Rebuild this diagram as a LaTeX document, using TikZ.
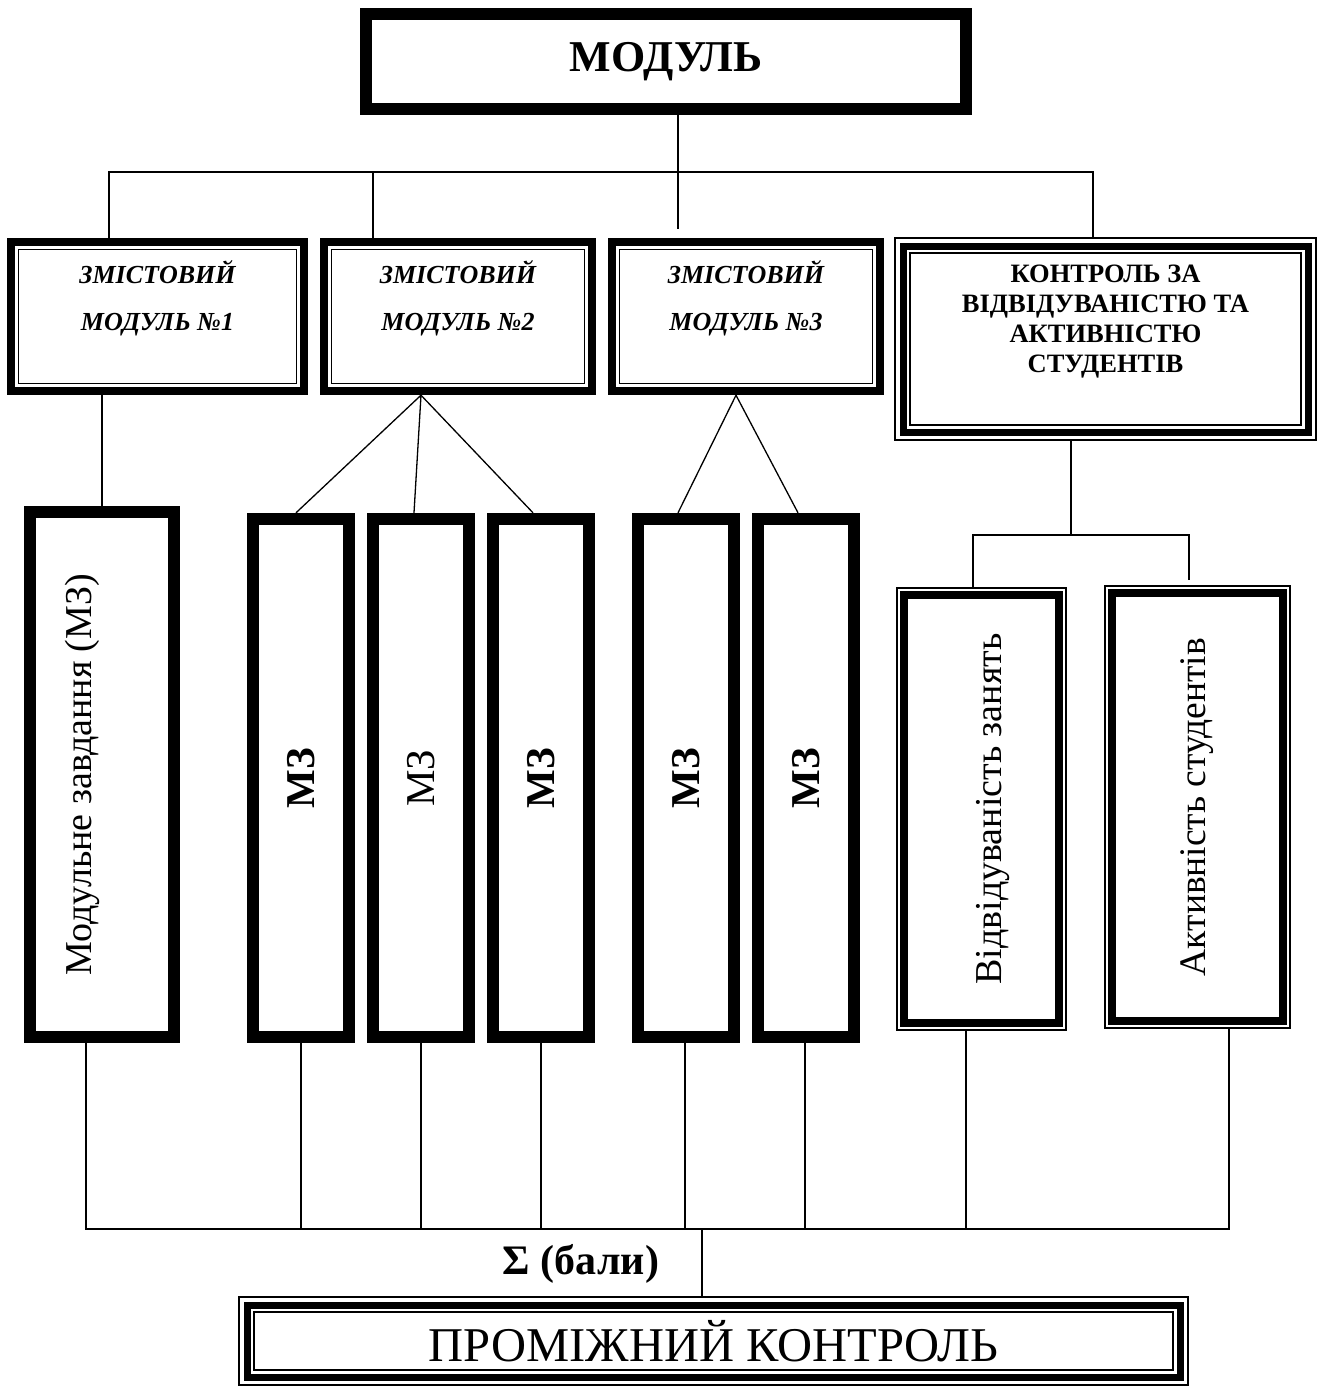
\documentclass[tikz,border=0pt]{standalone}
\usepackage{fontspec}
\setmainfont{Liberation Serif}
\usetikzlibrary{calc}

% frame drawn inside a node, #1 = inset, #2 = line width
\newcommand\inframe[2]{\draw[line width=#2pt] ([shift={(#1pt,-#1pt)}]path picture bounding box.north west) rectangle ([shift={(-#1pt,#1pt)}]path picture bounding box.south east);}
% upright text, #1 = sideways offset
\newcommand\vlabel[2][0pt]{\rotatebox{90}{\raisebox{#1}[\height][\depth]{#2}}}

\tikzset{
  sized/.style 2 args={fill=white, inner sep=0pt, align=center, minimum width=#1pt, minimum height=#2pt},
  heavy/.style={path picture={\inframe{6}{12}}},
  zmbox/.style={path picture={\inframe{4}{8}\inframe{11.5}{1.6}}},
  ctrlbox/.style={path picture={\inframe{0.8}{1.6}\inframe{9}{7}\inframe{16}{1.6}}},
  vidbox/.style={path picture={\inframe{0.8}{1.6}\inframe{8}{8}}},
  link/.style={line width=1.3pt},
  zmtext/.style={font=\fontsize{26}{30}\selectfont\bfseries\itshape},
  mztext/.style={font=\fontsize{41}{44}\selectfont}
}

\begin{document}
\begin{tikzpicture}[x=1pt,y=-1pt]
\useasboundingbox (0,0) rectangle (1318,1387);

% top
\node[sized={612}{107}, heavy, font=\fontsize{44}{50}\selectfont\bfseries] (modul) at (666,61.5) {МОДУЛЬ};

% content modules
\node[sized={301}{157}, zmbox, zmtext] (zm1) at (157.5,316.5) {ЗМІСТОВИЙ\\[17pt]МОДУЛЬ №1\\[12pt]\mbox{}};
\node[sized={276}{157}, zmbox, zmtext] (zm2) at (458,316.5) {ЗМІСТОВИЙ\\[17pt]МОДУЛЬ №2\\[12pt]\mbox{}};
\node[sized={276}{157}, zmbox, zmtext] (zm3) at (746,316.5) {ЗМІСТОВИЙ\\[17pt]МОДУЛЬ №3\\[12pt]\mbox{}};
\node[sized={423}{204}, ctrlbox, font=\fontsize{26.5}{30}\selectfont\bfseries] (ctrl) at (1105.5,339) {КОНТРОЛЬ ЗА\\ВІДВІДУВАНІСТЮ ТА\\АКТИВНІСТЮ\\СТУДЕНТІВ\\[10pt]\mbox{}};

% modular tasks
\node[sized={156}{537}, heavy, font=\fontsize{38}{42}\selectfont] (mz0) at (102,774.5) {\vlabel[20pt]{Модульне завдання (МЗ)}};
\node[sized={108}{530}, heavy, mztext] (mz1) at (301,778) {\vlabel{\bfseries МЗ}};
\node[sized={108}{530}, heavy, mztext] (mz2) at (421,778) {\vlabel{МЗ}};
\node[sized={108}{530}, heavy, mztext] (mz3) at (541,778) {\vlabel{\bfseries МЗ}};
\node[sized={108}{530}, heavy, mztext] (mz4) at (686,778) {\vlabel{\bfseries МЗ}};
\node[sized={108}{530}, heavy, mztext] (mz5) at (806,778) {\vlabel{\bfseries МЗ}};

% attendance and activity
\node[sized={171}{444}, vidbox, font=\fontsize{38}{42}\selectfont] (vid1) at (981.5,809) {\vlabel[-12pt]{Відвідуваність занять}};
\node[sized={187}{444}, vidbox, font=\fontsize{37.5}{42}\selectfont] (vid2) at (1197.5,807) {\vlabel{Активність студентів}};

% result
\node[font=\fontsize{42}{46}\selectfont\bfseries] (sum) at (581,1264) {Σ (бали)};
\node[sized={951}{90}, ctrlbox, font=\fontsize{48.5}{52}\selectfont] (prom) at (713.5,1341) {ПРОМІЖНИЙ КОНТРОЛЬ};

% upper tree
\coordinate (topbus) at (678,172);
\coordinate (zm3stub) at (678,229);
\coordinate (zm2top) at ([xshift=-85pt]zm2.north);
\draw[link] ([xshift=12pt]modul.south) -- (topbus) -- (zm3stub);
\draw[link] ([xshift=-48.5pt]zm1.north) |- (topbus) -| ([xshift=-12.5pt]ctrl.north);
\draw[link] (zm2top) -- (zm2top |- topbus);

% fans
\draw[link] (mz0.north) -- (mz0.north |- zm1.south);
\coordinate (zm2fan) at ([xshift=-37pt]zm2.south);
\draw[link] ([xshift=-5pt]mz1.north) -- (zm2fan) -- ([xshift=-7pt]mz2.north);
\draw[link] (zm2fan) -- ([xshift=-8pt]mz3.north);
\coordinate (zm3fan) at ([xshift=-10pt]zm3.south);
\draw[link] ([xshift=-8pt]mz4.north) -- (zm3fan) -- ([xshift=-8pt]mz5.north);

\coordinate (ctrlbus) at (1071,535);
\coordinate (vid2stub) at (1189,580);
\draw[link] ([xshift=-34.5pt]ctrl.south) -- (ctrlbus);
\draw[link] ([xshift=-8.5pt]vid1.north) |- (ctrlbus) -| (vid2stub);

% lower bus
\coordinate (sumbus) at (702,1229);
\draw[link] ([xshift=-16pt]mz0.south) |- (sumbus) -| ([xshift=31.5pt]vid2.south);
\foreach \b/\s in {mz1/0,mz2/0,mz3/0,mz4/-1,mz5/-1,vid1/-15.5}
  \draw[link] ([xshift=\s pt]\b.south) |- (sumbus);
\draw[link] (sumbus) -- ([xshift=-11.5pt]prom.north);
\end{tikzpicture}
\end{document}
